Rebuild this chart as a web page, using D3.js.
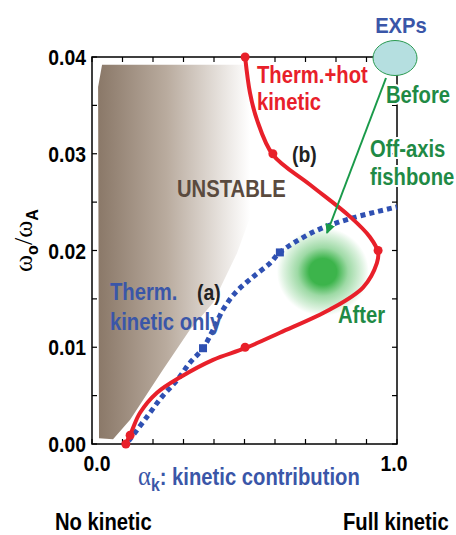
<!DOCTYPE html>
<html><head><meta charset="utf-8">
<script src="https://cdn.jsdelivr.net/npm/d3@7"></script>
<style>body{margin:0;background:#fff}text{font-family:"Liberation Sans",Arial,sans-serif;font-weight:bold}</style>
</head><body><svg id="c" width="456" height="535"></svg>
<script>
// ---- data ----
const xTicksMajor = [0.0, 1.0];
const yTicksMajor = [0.00, 0.01, 0.02, 0.03, 0.04];
const xMinor = d3.range(0, 1.0001, 0.1);
const yMinor = d3.range(0, 0.04001, 0.005);
// unstable region boundary (alpha_k, omega)
const unstableX = [0.033, 0.020, 0.023, 0.069, 0.125, 0.233, 0.321, 0.397, 0.475, 0.56, 0.65, 0.70];
const unstableY = [0.0392, 0.0369, 0.0006, 0.0005, 0.0025, 0.0077, 0.0118, 0.0146, 0.0197, 0.027, 0.035, 0.0392];
// (b) Therm.+hot kinetic
const hotX = [0.502, 0.518, 0.541, 0.593, 0.715, 0.846, 0.911, 0.938, 0.934, 0.889, 0.780, 0.616, 0.502, 0.397, 0.289, 0.213, 0.157, 0.131, 0.111];
const hotY = [0.0400, 0.0363, 0.0335, 0.0299, 0.0268, 0.0235, 0.0214, 0.0198, 0.0187, 0.0162, 0.0139, 0.0115, 0.0099, 0.0087, 0.0069, 0.0053, 0.0032, 0.0014, 0.0000];
const hotMarkX = [0.502, 0.593, 0.938, 0.502, 0.125, 0.111];
const hotMarkY = [0.0400, 0.0300, 0.0200, 0.0100, 0.0009, 0.0000];
// (a) Therm. kinetic only
const thX = [0.120, 0.180, 0.230, 0.279, 0.321, 0.364, 0.397, 0.430, 0.469, 0.525, 0.584, 0.616, 0.725, 0.836, 1.0];
const thY = [0.0003, 0.0028, 0.0049, 0.0066, 0.0084, 0.0099, 0.0118, 0.0139, 0.0156, 0.0172, 0.0187, 0.0198, 0.0219, 0.0232, 0.0245];
const thMarkX = [0.364, 0.616];
const thMarkY = [0.0099, 0.0198];
// experiment "After" blob centre
const afterX = [0.757]; const afterY = [0.0178];

// ---- drawing ----
const svg = d3.select("#c");
const L = 92, R = 397, T = 57, B = 444;
const x = d3.scaleLinear().domain([0, 1]).range([L, R]);
const y = d3.scaleLinear().domain([0, 0.04]).range([B, T]);
const defs = svg.append("defs");
const g1 = defs.append("linearGradient").attr("id","ug").attr("gradientUnits","userSpaceOnUse")
  .attr("x1",98).attr("x2",250).attr("y1",0).attr("y2",0);
g1.append("stop").attr("offset","0").attr("stop-color","#8a7868");
g1.append("stop").attr("offset","0.45").attr("stop-color","#b9ab9e");
g1.append("stop").attr("offset","1").attr("stop-color","#ffffff");
const g2 = defs.append("radialGradient").attr("id","bg");
g2.append("stop").attr("offset","0").attr("stop-color","#3cb44b");
g2.append("stop").attr("offset","0.3").attr("stop-color","#3cb44b");
g2.append("stop").attr("offset","0.55").attr("stop-color","#3cb44b").attr("stop-opacity",0.5);
g2.append("stop").attr("offset","0.85").attr("stop-color","#3cb44b").attr("stop-opacity",0.18);
g2.append("stop").attr("offset","1").attr("stop-color","#3cb44b").attr("stop-opacity",0);
defs.append("marker").attr("id","ah").attr("viewBox","0 0 10 10").attr("refX",9).attr("refY",5)
  .attr("markerWidth",5).attr("markerHeight",5).attr("orient","auto")
  .append("path").attr("d","M0,0L10,5L0,10z").attr("fill","#1a9a4a");

// unstable region
const reg = unstableX.map((v,i)=>[x(v), y(unstableY[i])]);
svg.append("path").attr("d", d3.line().curve(d3.curveLinear)(reg)+"Z").attr("fill","url(#ug)");

// after blob
svg.append("rect").attr("x",x(afterX[0])-46).attr("y",y(afterY[0])-44).attr("width",92).attr("height",88)
  .attr("rx",40).attr("fill","url(#bg)");

// frame
svg.append("rect").attr("x",L).attr("y",T).attr("width",R-L).attr("height",B-T).attr("fill","none").attr("stroke","#000").attr("stroke-width",1.5);
const tk = svg.append("g").attr("stroke","#000").attr("stroke-width",1.2);
xMinor.forEach(v=>{tk.append("line").attr("x1",x(v)).attr("x2",x(v)).attr("y1",B).attr("y2",B-5);
  tk.append("line").attr("x1",x(v)).attr("x2",x(v)).attr("y1",T).attr("y2",T+5);});
yMinor.forEach(v=>{tk.append("line").attr("y1",y(v)).attr("y2",y(v)).attr("x1",L).attr("x2",L+5);
  tk.append("line").attr("y1",y(v)).attr("y2",y(v)).attr("x1",R).attr("x2",R-5);});

function t(txt,xx,yy,col,size,opts={}){
  const e=svg.append("text").attr("transform",`translate(${xx},${yy}) scale(${opts.sx||0.88},1)`)
    .attr("fill",col).attr("font-size",size).text(txt);
  if(opts.halo) e.attr("stroke","#fff").attr("stroke-width",4).attr("paint-order","stroke");
  if(opts.anchor) e.attr("text-anchor",opts.anchor); return e;}

yTicksMajor.forEach(v=>t(v.toFixed(2),86,y(v)+8,"#000",22,{anchor:"end"}));
xTicksMajor.forEach(v=>t(v.toFixed(1),x(v)+(v===0?5:-3),471,"#000",22,{anchor:"middle"}));

// blue dotted curve
const line = d3.line().x(d=>x(d[0])).y(d=>y(d[1])).curve(d3.curveCatmullRom);
svg.append("path").attr("d", line(thX.map((v,i)=>[v,thY[i]]))).attr("fill","none")
  .attr("stroke","#2f50b2").attr("stroke-width",5).attr("stroke-dasharray","5,4");
thMarkX.forEach((v,i)=>svg.append("rect").attr("x",x(v)-4).attr("y",y(thMarkY[i])-4).attr("width",8).attr("height",8).attr("fill","#2f50b2"));

// red curve
svg.append("path").attr("d", line(hotX.map((v,i)=>[v,hotY[i]]))).attr("fill","none")
  .attr("stroke","#e8202a").attr("stroke-width",4).attr("stroke-linecap","round");
hotMarkX.forEach((v,i)=>svg.append("circle").attr("cx",x(v)).attr("cy",y(hotMarkY[i])).attr("r",4.5).attr("fill","#e8202a"));

// EXPs ellipse + arrow
svg.append("line").attr("x1",386).attr("y1",78).attr("x2",327).attr("y2",233).attr("stroke","#1a9a4a").attr("stroke-width",2).attr("marker-end","url(#ah)");
svg.append("ellipse").attr("cx",395).attr("cy",58).attr("rx",22).attr("ry",17.5).attr("fill","#b5dfe0").attr("stroke","#2a9a50").attr("stroke-width",1);

// texts
t("EXPs",401,33,"#3a56a8",22,{anchor:"middle",sx:0.92});
t("Before",386,103,"#1f8a45",23,{halo:true});
t("Off-axis",370,157,"#1f8a45",23,{halo:true});
t("fishbone",370,185,"#1f8a45",23,{halo:true});
t("Therm.+hot",257,83,"#e8202a",23);
t("kinetic",257,110,"#e8202a",23);
t("(b)",292,162,"#222",22);
t("UNSTABLE",177,197,"#5a4a3e",23);
t("Therm.",110,300,"#3a56a8",23);
t("kinetic only",110,330,"#3a56a8",23);
t("(a)",197,300,"#222",22);
t("After",338,323,"#1f8a45",23);
t("No kinetic",55,530,"#000",23);
t("Full kinetic",343,530,"#000",23);
// x label
const xl = svg.append("text").attr("transform","translate(138,485) scale(0.88,1)").attr("fill","#3a56a8").attr("font-size",23);
xl.append("tspan").attr("font-family","'Liberation Serif','DejaVu Serif',serif").attr("font-weight","normal").attr("font-size",28).text("α");
xl.append("tspan").attr("dy",6).attr("font-size",18).text("k");
xl.append("tspan").attr("dy",-6).text(": kinetic contribution");
// y label
const yl = svg.append("text").attr("transform","translate(32,272) rotate(-90)").attr("fill","#000").attr("font-size",26);
yl.append("tspan").attr("font-family","'Liberation Serif','DejaVu Serif',serif").attr("font-weight","normal").text("ω");
yl.append("tspan").attr("dy",6).attr("font-size",16).text("o");
yl.append("tspan").attr("dy",-6).attr("font-family","'Liberation Serif','DejaVu Serif',serif").attr("font-weight","normal").text("/ω");
yl.append("tspan").attr("dy",6).attr("font-size",16).text("A");
</script></body></html>
